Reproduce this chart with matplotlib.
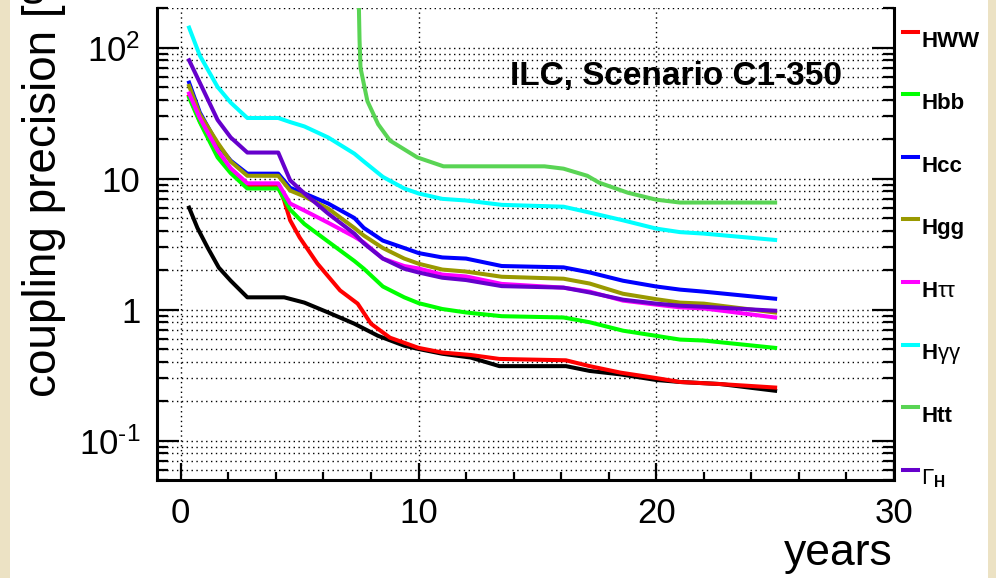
import numpy as np
import matplotlib
matplotlib.use('Agg')
import matplotlib.pyplot as plt
from matplotlib.ticker import FixedLocator, MultipleLocator, LogLocator, NullFormatter
from matplotlib.patches import Rectangle

plt.rcParams['font.family'] = ['Liberation Sans', 'DejaVu Sans']
plt.rcParams['mathtext.fontset'] = 'custom'
plt.rcParams['mathtext.rm'] = 'Liberation Sans'
plt.rcParams['mathtext.it'] = 'Liberation Sans'
plt.rcParams['mathtext.bf'] = 'Liberation Sans:bold'

# common time grid (years) for most couplings
years = [0.35, 0.8, 1.55, 2.1, 2.8, 4.1, 4.6, 5.2, 6.2, 7.3, 7.7, 8.5, 9.4,
         10.0, 11.0, 12.0, 13.5, 16.1, 17.2, 18.6, 20.0, 21.0, 22.0, 25.0]

hbb = [41.5, 27, 14.5, 11, 8.4, 8.4, 5.8, 4.5, 3.3, 2.35, 2.05, 1.5, 1.24,
       1.12, 1.01, 0.95, 0.89, 0.87, 0.8, 0.69, 0.63, 0.59, 0.58, 0.51]
hcc = [54, 32, 18.2, 13.7, 10.9, 10.9, 8.5, 7.7, 6.45, 5.0, 4.2, 3.36, 2.95,
       2.7, 2.5, 2.45, 2.15, 2.1, 1.92, 1.66, 1.5, 1.42, 1.37, 1.21]
hgg = [51, 31, 18.8, 13.5, 10.5, 10.5, 8.1, 7.3, 5.9, 4.2, 3.67, 2.95, 2.45,
       2.24, 2.02, 1.95, 1.78, 1.72, 1.58, 1.32, 1.2, 1.13, 1.11, 0.95]
htautau = [44.6, 29, 16.4, 12, 9.2, 9.2, 6.45, 5.7, 4.6, 3.6, 3.25, 2.45, 2.15,
           2.06, 1.85, 1.79, 1.57, 1.47, 1.37, 1.17, 1.09, 1.04, 1.02, 0.87]
hgamgam = [142, 87, 50, 38, 29, 29, 27, 25, 20.6, 15.5, 13.5, 10.3, 8.4,
           7.7, 7.0, 6.8, 6.3, 6.1, 5.5, 4.8, 4.15, 3.9, 3.8, 3.4]
gamma_h = [80, 54, 28, 20.6, 15.8, 15.8, 9.7, 7.7, 5.4, 3.8, 3.2, 2.45, 2.05,
           1.92, 1.75, 1.68, 1.51, 1.47, 1.35, 1.19, 1.11, 1.07, 1.05, 0.98]

years_hww = [0.35, 0.8, 1.55, 2.1, 2.8, 4.1, 4.35, 4.6, 5.0, 5.75, 6.7, 7.44, 8.0,
             8.8, 10.0, 11.0, 12.2, 13.4, 16.2, 17.2, 18.5, 20.0, 21.0, 22.7, 25.0]
hww = [42.5, 27.5, 15, 11.3, 8.7, 8.7, 6.8, 4.8, 3.55, 2.24, 1.4, 1.11, 0.78,
       0.61, 0.51, 0.47, 0.45, 0.42, 0.41, 0.37, 0.33, 0.30, 0.28, 0.27, 0.254]

years_hzz = [0.35, 0.7, 1.13, 1.6, 2.1, 2.8, 4.35, 5.2, 6.2, 7.3, 8.3, 9.4, 10.0,
             11.0, 12.2, 13.4, 16.2, 17.2, 18.5, 20.0, 21.0, 22.7, 25.0]
hzz = [6.0, 4.2, 2.97, 2.09, 1.66, 1.24, 1.24, 1.13, 0.95, 0.78, 0.63, 0.53, 0.50,
       0.46, 0.43, 0.37, 0.37, 0.34, 0.32, 0.29, 0.28, 0.27, 0.24]

years_htt = [7.46, 7.52, 7.56, 7.85, 8.3, 8.8, 9.95, 11.05, 13.4, 15.3, 16.1,
             17.1, 17.6, 18.8, 20.0, 21.0, 25.0]
htt = [400, 113, 70, 39, 26, 19.5, 14.5, 12.4, 12.4, 12.4, 11.9, 10.5, 9.3,
       7.8, 6.9, 6.56, 6.56]

W, H = 996, 578
fig = plt.figure(figsize=(W / 100, H / 100), dpi=100)
fig.patch.set_facecolor('#ece2c4')
fig.add_artist(Rectangle((10 / W, 0), (988 - 10) / W, 1, transform=fig.transFigure,
                         facecolor='white', edgecolor='none', zorder=0))

ax_h = 131 * np.log10(200 / 0.05)
ax = fig.add_axes([157 / W, 98 / H, (894 - 157) / W, ax_h / H])
ax.set_facecolor('none')

lw = 2.9
ax.plot(years_hzz, hzz, color='black', lw=lw, solid_joinstyle='round')
l_ww, = ax.plot(years_hww, hww, color='#ff0000', lw=lw, solid_joinstyle='round')
l_bb, = ax.plot(years, hbb, color='#00ff00', lw=lw, solid_joinstyle='round')
l_cc, = ax.plot(years, hcc, color='#0000ff', lw=lw, solid_joinstyle='round')
l_gg, = ax.plot(years, hgg, color='#999900', lw=lw, solid_joinstyle='round')
l_tautau, = ax.plot(years, htautau, color='#ff00ff', lw=lw, solid_joinstyle='round')
l_gamgam, = ax.plot(years, hgamgam, color='#00ffff', lw=lw, solid_joinstyle='round')
l_tt, = ax.plot(years_htt, htt, color='#59d454', lw=lw, solid_joinstyle='round')
l_gh, = ax.plot(years, gamma_h, color='#6600cc', lw=lw, solid_joinstyle='round')

ax.set_xlim(-1, 30)
ax.set_yscale('log')
ax.set_ylim(0.05, 200)

ax.xaxis.set_major_locator(FixedLocator([0, 10, 20, 30]))
ax.xaxis.set_minor_locator(MultipleLocator(2))
ax.yaxis.set_major_locator(FixedLocator([0.1, 1, 10, 100]))
ax.yaxis.set_minor_locator(LogLocator(base=10, subs=np.arange(2, 10)))
ax.yaxis.set_minor_formatter(NullFormatter())
ax.set_yticklabels([r'$\mathregular{10^{\text{-}1}}$', '1', '10',
                    r'$\mathregular{10^{2}}$'])

ax.tick_params(axis='y', which='both', direction='in', left=True, right=True,
               labelsize=25, pad=12, width=1.6)
ax.tick_params(axis='y', which='major', length=16)
ax.tick_params(axis='y', which='minor', length=8)
ax.tick_params(axis='x', which='both', direction='in', top=False,
               labelsize=25, pad=12, width=1.6)
ax.tick_params(axis='x', which='major', length=12)
ax.tick_params(axis='x', which='minor', length=6)

grid_style = dict(color='black', linestyle=(0, (1, 2.5)), linewidth=1.0)
ax.grid(True, which='both', axis='y', **grid_style)
ax.grid(True, which='major', axis='x', **grid_style)

ax.spines['top'].set_visible(False)
for side in ['left', 'right', 'bottom']:
    ax.spines[side].set_linewidth(2.2)

fig.text(510 / W, 1 - 85 / H, 'ILC, Scenario C1-350', ha='left', va='baseline',
         fontsize=24, fontweight='bold')
# the axis title runs off the top edge, as in the original
fig.text(44 / W, 1 - 397 / H, 'coupling precision [%]', rotation=90,
         ha='center', va='bottom', fontsize=33)
fig.text(893 / W, 1 - 565 / H, 'years', ha='right', va='baseline', fontsize=32)

handles = [l_ww, l_bb, l_cc, l_gg, l_tautau, l_gamgam, l_tt, l_gh]
labels = ['HWW', 'Hbb', 'Hcc', 'Hgg', r'H$\tau\tau$', r'H$\gamma\gamma$', 'Htt',
          r'$\Gamma_{\mathbf{H}}$']
ax.legend(handles, labels, loc='upper left', bbox_to_anchor=(903 / W, 1 - 17 / H),
          bbox_transform=fig.transFigure, frameon=False, handlelength=0.68,
          handletextpad=0.15, handleheight=2.8, labelspacing=0.75, borderpad=0,
          borderaxespad=0, prop={'weight': 'bold', 'size': 16})

fig.savefig('out.png', dpi=100, facecolor=fig.get_facecolor())
